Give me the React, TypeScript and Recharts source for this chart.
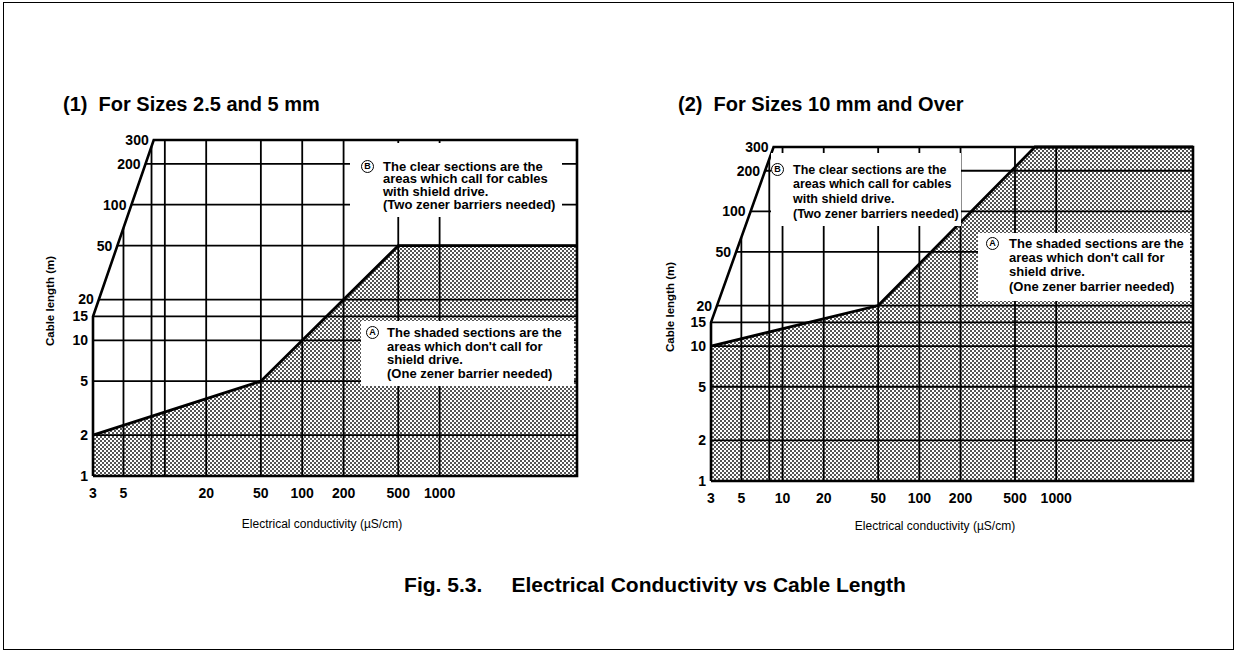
import React from "react";
import {
  Area,
  ComposedChart,
  Line,
  ReferenceDot,
  ReferenceLine,
  XAxis,
  YAxis,
} from "recharts";

const X_MIN = 3;
const X_MAX = 10000;
const Y_MIN = 1;
const Y_MAX = 300;
const Y_BREAK = 15;

const leftXTicks = [3, 5, 20, 50, 100, 200, 500, 1000];
const rightXTicks = [3, 5, 10, 20, 50, 100, 200, 500, 1000];
const xGridValues = [5, 8, 10, 20, 50, 100, 200, 500, 1000];
const yGridValues = [2, 5, 10, 15, 20, 50, 100, 200];
const yLabelValues = [1, 2, 5, 10, 15, 20, 50, 100, 200, 300];

// boundary between shaded (A) and clear (B) sections
const leftBoundary = [
  { x: 3, y: 2 },
  { x: 50, y: 5 },
  { x: 500, y: 50 },
  { x: 10000, y: 50 },
];
const rightBoundary = [
  { x: 3, y: 10 },
  { x: 50, y: 20 },
  { x: 700, y: 300 },
  { x: 10000, y: 300 },
];

// conductivity where the slanted left edge reaches 300 m
const leftSlantTop = 8.3;
const rightSlantTop = 8.6;

const noteB = [
  "The clear sections are the",
  "areas which call for cables",
  "with shield drive.",
  "(Two zener barriers needed)",
];
const noteA = [
  "The shaded sections are the",
  "areas which don't call for",
  "shield drive.",
  "(One zener barrier needed)",
];

const FONT = '"Liberation Sans", Arial, Helvetica, sans-serif';

// slanted edge runs straight (in log-log) from (3, 15) to (slantTop, 300)
const slantX = (y: number, top: number) =>
  X_MIN * Math.pow(top / X_MIN, Math.log(y / Y_BREAK) / Math.log(Y_MAX / Y_BREAK));
const slantY = (x: number, top: number) =>
  Y_BREAK * Math.pow(Y_MAX / Y_BREAK, Math.log(x / X_MIN) / Math.log(top / X_MIN));

const edgeX = (y: number, top: number) => (y <= Y_BREAK ? X_MIN : slantX(y, top));
const edgeY = (x: number, top: number) => (x >= top ? Y_MAX : slantY(x, top));

interface PanelProps {
  id: string;
  left: number;
  xTicks: number[];
  boundary: { x: number; y: number }[];
  slantTop: number;
  margin: { top: number; right: number; bottom: number; left: number };
}

const Panel = ({ id, left, xTicks, boundary, slantTop, margin }: PanelProps) => {
  const frame = [
    { x: X_MIN, y: Y_MIN },
    { x: X_MIN, y: Y_BREAK },
    { x: slantTop, y: Y_MAX },
    { x: X_MAX, y: Y_MAX },
    { x: X_MAX, y: Y_MIN },
    { x: X_MIN, y: Y_MIN },
  ];
  return (
    <div style={{ position: "absolute", left, top: 0 }}>
      <ComposedChart width={620} height={560} margin={margin}>
        <defs>
          <pattern id={id} width={4} height={4} patternUnits="userSpaceOnUse">
            <rect x={0} y={0} width={2} height={2} fill="#555" />
            <rect x={2} y={2} width={2} height={2} fill="#555" />
          </pattern>
        </defs>
        <XAxis
          dataKey="x"
          type="number"
          scale="log"
          domain={[X_MIN, X_MAX]}
          ticks={xTicks}
          tickLine={false}
          axisLine={false}
          tickMargin={6}
          height={30}
          tick={{ fill: "#000", fontSize: 14, fontWeight: 700, fontFamily: FONT }}
        />
        <YAxis hide dataKey="y" type="number" scale="log" domain={[Y_MIN, Y_MAX]} />
        <Area
          data={boundary}
          dataKey="y"
          type="linear"
          baseValue={Y_MIN}
          fill={`url(#${id})`}
          fillOpacity={1}
          stroke="#000"
          strokeWidth={2.8}
          isAnimationActive={false}
          dot={false}
          activeDot={false}
        />
        {xGridValues.map((v) => (
          <ReferenceLine
            key={`vx-${v}`}
            ifOverflow="visible"
            segment={[
              { x: v, y: Y_MIN },
              { x: v, y: edgeY(v, slantTop) },
            ]}
            stroke="#000"
            strokeWidth={1.8}
          />
        ))}
        {yGridValues.map((v) => (
          <ReferenceLine
            key={`hy-${v}`}
            ifOverflow="visible"
            segment={[
              { x: edgeX(v, slantTop), y: v },
              { x: X_MAX, y: v },
            ]}
            stroke="#000"
            strokeWidth={1.8}
          />
        ))}
        <Line
          data={frame}
          dataKey="y"
          type="linear"
          stroke="#000"
          strokeWidth={2.6}
          dot={false}
          activeDot={false}
          isAnimationActive={false}
        />
        {yLabelValues.map((v) => (
          <ReferenceDot
            key={`yl-${v}`}
            x={edgeX(v, slantTop)}
            y={v}
            r={0}
            ifOverflow="visible"
            fill="none"
            stroke="none"
            label={{
              value: String(v),
              position: "left",
              offset: 5,
              fill: "#000",
              fontSize: 14,
              fontWeight: 700,
              fontFamily: FONT,
            }}
          />
        ))}
      </ComposedChart>
    </div>
  );
};

interface NoteProps {
  letter: string;
  lines: string[];
  box: { left: number; top: number; width: number; height: number };
  circleX: number;
  textX: number;
  firstY: number;
  lineH: number;
  fontSize?: number;
}

const Note = ({ letter, lines, box, circleX, textX, firstY, lineH, fontSize = 13 }: NoteProps) => (
  <div
    style={{
      position: "absolute",
      left: box.left,
      top: box.top,
      width: box.width,
      height: box.height,
      background: "#fff",
    }}
  >
    <div
      style={{
        position: "absolute",
        left: circleX - box.left - 7,
        top: firstY - box.top - 7,
        width: 11,
        height: 11,
        border: "1.8px solid #000",
        borderRadius: "50%",
        fontSize: 9,
        fontWeight: 700,
        lineHeight: "11px",
        textAlign: "center",
      }}
    >
      {letter}
    </div>
    <div
      style={{
        position: "absolute",
        left: textX - box.left,
        top: firstY - box.top - lineH / 2,
        fontSize,
        fontWeight: 700,
        lineHeight: `${lineH}px`,
        whiteSpace: "nowrap",
      }}
    >
      {lines.map((l) => (
        <div key={l}>{l}</div>
      ))}
    </div>
  </div>
);

const abs = (left: number, top: number, extra: React.CSSProperties = {}): React.CSSProperties => ({
  position: "absolute",
  left,
  top,
  whiteSpace: "pre",
  ...extra,
});

export default function App() {
  return (
    <div
      style={{
        position: "absolute",
        left: 0,
        top: 0,
        width: 1236,
        height: 652,
        background: "#fff",
        fontFamily: FONT,
        color: "#000",
        overflow: "hidden",
      }}
    >
      <div
        style={{
          position: "absolute",
          left: 3,
          top: 2,
          width: 1229,
          height: 646,
          border: "1.5px solid #000",
        }}
      />
      <Panel
        id="shadeL"
        left={0}
        xTicks={leftXTicks}
        boundary={leftBoundary}
        slantTop={leftSlantTop}
        margin={{ top: 140, right: 43, bottom: 54, left: 93 }}
      />
      <Panel
        id="shadeR"
        left={600}
        xTicks={rightXTicks}
        boundary={rightBoundary}
        slantTop={rightSlantTop}
        margin={{ top: 147, right: 27, bottom: 49, left: 111 }}
      />

      <div style={abs(63, 92, { fontSize: 20, fontWeight: 700, lineHeight: "24px" })}>
        (1)  For Sizes 2.5 and 5 mm
      </div>
      <div style={abs(678, 92, { fontSize: 20, fontWeight: 700, lineHeight: "24px" })}>
        (2)  For Sizes 10 mm and Over
      </div>

      <div
        style={abs(50, 301, {
          fontSize: 11.5,
          fontWeight: 700,
          transform: "translate(-50%, -50%) rotate(-90deg)",
        })}
      >
        Cable length (m)
      </div>
      <div
        style={abs(670, 307, {
          fontSize: 11.5,
          fontWeight: 700,
          transform: "translate(-50%, -50%) rotate(-90deg)",
        })}
      >
        Cable length (m)
      </div>
      <div style={abs(322, 524, { fontSize: 12, transform: "translate(-50%, -50%)" })}>
        Electrical conductivity (µS/cm)
      </div>
      <div style={abs(935, 526, { fontSize: 12, transform: "translate(-50%, -50%)" })}>
        Electrical conductivity (µS/cm)
      </div>

      <Note
        letter="B"
        lines={noteB}
        box={{ left: 350, top: 143, width: 212, height: 74 }}
        circleX={368}
        textX={383}
        firstY={167}
        lineH={12.8}
      />
      <Note
        letter="A"
        lines={noteA}
        box={{ left: 361, top: 321, width: 213, height: 65 }}
        circleX={373}
        textX={387}
        firstY={333}
        lineH={13.4}
      />
      <Note
        letter="B"
        lines={noteB}
        box={{ left: 771, top: 153, width: 190, height: 73 }}
        circleX={778}
        textX={793}
        firstY={170}
        lineH={14.8}
        fontSize={12.5}
      />
      <Note
        letter="A"
        lines={noteA}
        box={{ left: 978, top: 233, width: 212, height: 68 }}
        circleX={993}
        textX={1009}
        firstY={244}
        lineH={14.3}
      />

      <div
        style={abs(655, 585, {
          fontSize: 21,
          fontWeight: 700,
          transform: "translate(-50%, -50%)",
        })}
      >
        Fig. 5.3.     Electrical Conductivity vs Cable Length
      </div>
    </div>
  );
}
